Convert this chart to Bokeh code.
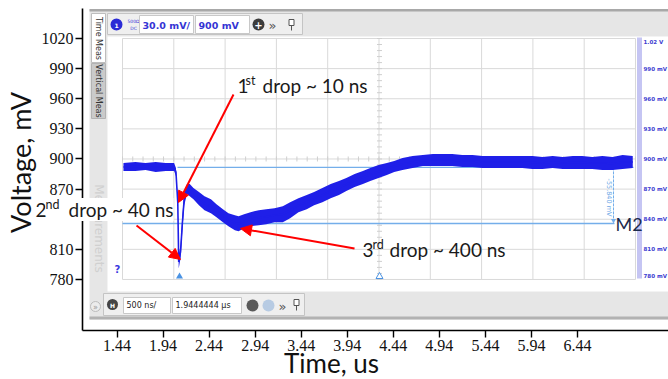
import math
from bokeh.plotting import figure
from bokeh.models import Range1d, FixedTicker, Label, Arrow, NormalHead
from bokeh.core.properties import value
from bokeh.embed import file_html
from bokeh.resources import INLINE

# ---------------- chart data ----------------
x_ticks = [1.44, 1.94, 2.44, 2.94, 3.44, 3.94, 4.44, 4.94, 5.44, 5.94, 6.44]
y_ticks = [780, 810, 840, 870, 900, 930, 960, 990, 1020]

# noisy scope trace: time (us) and upper / lower edge of the trace band (mV)
trace_t = [1.51, 1.64, 1.75, 1.86, 1.97, 2.06,
           2.08, 2.10, 2.11, 2.13, 2.15, 2.17, 2.20, 2.23, 2.27, 2.33,
           2.39, 2.46, 2.52, 2.59, 2.65, 2.72, 2.76, 2.82, 2.89, 2.98,
           3.06, 3.15, 3.24, 3.32, 3.41, 3.50, 3.58, 3.67, 3.76, 3.85,
           3.93, 4.02, 4.11, 4.19, 4.28, 4.37, 4.45, 4.54, 4.65, 4.76,
           4.87, 4.97, 5.08, 5.19, 5.30, 5.41, 5.52, 5.63, 5.73, 5.84,
           5.95, 6.06, 6.17, 6.28, 6.39, 6.49, 6.60, 6.71, 6.82, 6.93,
           7.04]
trace_hi = [896, 897, 896, 897, 896, 896,
            891, 859, 804, 814, 844, 867, 875, 875, 871, 867,
            863, 860, 855, 850, 846, 844, 843, 845, 847, 849,
            850, 851, 853, 857, 861, 864, 867, 871, 875, 878,
            881, 885, 888, 891, 894, 896, 898, 901, 903, 904,
            905, 905, 905, 904, 904, 903, 903, 903, 903, 903,
            903, 902, 903, 902, 903, 903, 902, 903, 902, 904,
            903]
trace_lo = [888, 888, 889, 887, 888, 888,
            883, 854, 791, 801, 829, 854, 865, 863, 860, 854,
            849, 846, 842, 837, 833, 829, 828, 831, 833, 834,
            835, 837, 837, 841, 847, 850, 854, 857, 861, 864,
            868, 872, 875, 878, 881, 884, 887, 889, 891, 893,
            893, 893, 893, 892, 892, 891, 891, 891, 891, 891,
            890, 890, 891, 890, 890, 890, 890, 889, 889, 890,
            891]

# scope's own vertical scale
scope_levels = [1020, 990, 960, 930, 900, 870, 840, 810, 780]
scope_labels = ["1.02 V", "990 mV", "960 mV", "930 mV", "900 mV",
                "870 mV", "840 mV", "810 mV", "780 mV"]
cursor_levels = [891.6, 835.76]
cursor_text = "-55.840 mV"

# annotations: number, superscript, rest; arrow tail and tip (us, mV)
note_num = ["1", "2", "3"]
note_sup = ["st", "nd", "rd"]
note_rest = ["drop ~ 10 ns", "drop ~ 40 ns", "drop ~ 400 ns"]
arrow_tail_t = [2.705, 1.652, 4.019]
arrow_tail_v = [964.2, 833.7, 810.8]
arrow_tip_t = [2.108, 2.129, 2.781]
arrow_tip_v = [856.7, 799.9, 830.8]


# ---------------- layout helpers (page pixel -> data) ----------------
def X(px):
    return 1.44 + (px - 116.5) / 92.1


def Y(py):
    return 1020 - (py - 38) / 1.004


W, H = 668, 379
p = figure(width=W, height=H,
           x_range=Range1d(X(0), X(W)), y_range=Range1d(Y(H), Y(0)),
           output_backend="svg", toolbar_location=None,
           min_border_left=0, min_border_right=0,
           min_border_top=0, min_border_bottom=0)
p.outline_line_color = None
p.grid.visible = False
p.background_fill_color = "white"
p.border_fill_color = "white"

for ax in (p.xaxis, p.yaxis):
    ax.axis_line_width = 1.6
    ax.axis_line_color = "black"
    ax.major_tick_line_width = 1.4
    ax.major_tick_line_color = "black"
    ax.major_tick_out = 7
    ax.major_tick_in = 0
    ax.minor_tick_out = 0
    ax.minor_tick_in = 0
    ax.major_label_text_font = "Liberation Serif"
    ax.major_label_text_font_size = "16px"
    ax.major_label_text_color = "#111111"
    ax.major_label_standoff = 2
p.xaxis.ticker = FixedTicker(ticks=x_ticks)
p.xaxis.major_label_overrides = {t: f"{t:.2f}" for t in x_ticks}
p.xaxis.fixed_location = Y(330)
p.xaxis.bounds = (X(82), X(668))
p.yaxis.ticker = FixedTicker(ticks=y_ticks)
p.yaxis.major_label_overrides = {840: ""}
p.yaxis.fixed_location = X(82)
p.yaxis.bounds = (Y(330), Y(8))


def quad(l, r, t, b, fill, line=None, lw=1.0):
    p.quad(left=[X(l)], right=[X(r)], top=[Y(t)], bottom=[Y(b)],
           fill_color=fill, line_color=line, line_width=lw)


def txt(px, py, s, size, color="#222222", font="DejaVu Sans", style="normal",
        angle=0.0, align="left", baseline="middle"):
    p.text(x=[X(px)], y=[Y(py)], text=[s], text_font=value(font),
           text_font_size=f"{size}px", text_color=color,
           text_font_style=style, angle=angle, text_align=align,
           text_baseline=baseline)


def dot(px, py, size, fill, line=None, marker="circle"):
    p.scatter(x=[X(px)], y=[Y(py)], size=size, marker=marker,
              fill_color=fill, line_color=line)


# ---------------- oscilloscope screenshot frame ----------------
quad(89, 668, 9, 319, "#e6e6e6")
quad(89, 668, 8.5, 11, "#a8a8a8")
quad(107, 668, 36, 291, "white")
quad(89, 668, 316, 319, "#b2b2b2")

# left tabs
quad(91, 105, 13, 62, "white", "#bdbdbd")
quad(91, 105, 63, 118, "#cacaca", "#b3b3b3")
txt(98, 38, "Time Meas", 8, "#333333", angle=-math.pi / 2, align="center")
txt(98, 90.5, "Vertical Meas", 8, "#333333", angle=-math.pi / 2, align="center")
txt(98, 228, "Measurements", 12, "#d0d0d0", angle=-math.pi / 2, align="center")

# top toolbar
quad(107, 302, 13, 34, "#efefef", "#c4c4c4")
dot(116, 24, 12, "#2b2bd6")
txt(116, 24.5, "1", 6, "white", style="bold", align="center")
txt(133, 20.5, "500Ω", 4.5, "#3a3ad8", align="center")
txt(133, 27.5, "DC", 4.5, "#3a3ad8", align="center")
quad(139, 193, 15, 33, "white", "#c8c8c8")
txt(142, 24.5, "30.0 mV/", 9.5, "#3434d4", style="bold")
quad(195, 249, 15, 33, "white", "#c8c8c8")
txt(198, 24.5, "900 mV", 9.5, "#3434d4", style="bold")
dot(258, 24, 12, "#3c3c3c")
txt(258, 24.5, "+", 10, "white", style="bold", align="center")
txt(272, 24.5, "»", 13, "#555555", align="center")
quad(288.5, 293.5, 19, 25, "white", "#555555")
p.segment(x0=[X(291)], y0=[Y(25)], x1=[X(291)], y1=[Y(30)], line_color="#555555")

# bottom toolbar
quad(103, 304, 293, 315, "#efefef", "#c4c4c4")
dot(95, 306, 10, "#ececec", "#bcbcbc")
txt(95, 306.5, "»", 8, "#999999", align="center")
dot(112, 304, 11, "#444444")
txt(112, 304.5, "H", 6, "white", style="bold", align="center")
quad(123, 170, 297, 313, "white", "#c8c8c8")
txt(126, 305, "500 ns/", 8, "#222222")
quad(172, 241, 297, 313, "white", "#c8c8c8")
txt(175, 305, "1.9444444 µs", 8, "#222222")
dot(252, 305, 12, "#5a5a5a")
dot(268, 305, 12, "#b7cbe3")
txt(282, 305.5, "»", 13, "#555555", align="center")
quad(293.5, 298.5, 299, 305, "white", "#555555")
p.segment(x0=[X(296)], y0=[Y(305)], x1=[X(296)], y1=[Y(310)], line_color="#555555")

# scope graticule
gx = [122 + k * 51.3 for k in range(11)]
p.segment(x0=[X(v) for v in gx], y0=[scope_levels[-1]] * len(gx),
          x1=[X(v) for v in gx], y1=[scope_levels[0]] * len(gx),
          line_color="#d9d9d9", line_width=1)
p.segment(x0=[X(122)] * len(scope_levels), y0=scope_levels,
          x1=[X(635)] * len(scope_levels), y1=scope_levels,
          line_color="#d9d9d9", line_width=1)
ty = [scope_levels[-1] + j * 6 for j in range(41)]
p.segment(x0=[X(376.5)] * len(ty), y0=ty, x1=[X(381.5)] * len(ty), y1=ty,
          line_color="#cfcfcf", line_width=1)
tx = [122 + j * 10.26 for j in range(51)]
p.segment(x0=[X(v) for v in tx], y0=[902.5] * len(tx),
          x1=[X(v) for v in tx], y1=[897.5] * len(tx),
          line_color="#cfcfcf", line_width=1)

# scope right scale
quad(636.5, 641.5, 37, 278, "#c5c5f3")
for lv, lab in zip(scope_levels, scope_labels):
    bl = "top" if lv == max(scope_levels) else ("bottom" if lv == min(scope_levels) else "middle")
    p.text(x=[X(643)], y=[lv], text=[lab], text_font=value("DejaVu Sans"),
           text_font_size="5.5px", text_color="#3b3bd0", text_font_style="bold",
           text_align="left", text_baseline=bl)

# cursors
p.segment(x0=[X(177)], y0=[cursor_levels[0]], x1=[X(633)], y1=[cursor_levels[0]],
          line_color="#74aeea", line_width=1.3)
p.segment(x0=[X(122)], y0=[cursor_levels[1]], x1=[X(614)], y1=[cursor_levels[1]],
          line_color="#74aeea", line_width=1.3)
p.segment(x0=[X(613)], y0=[cursor_levels[0]], x1=[X(613)], y1=[cursor_levels[1]],
          line_color="#74aeea", line_width=1, line_dash="3 1")
dot(613, 220, 5, "#74aeea", marker="inverted_triangle")
txt(608, 197, cursor_text, 6.5, "#6aa6e6", angle=-math.pi / 2, align="center")
dot(179, 276, 7, "#4b93e3", marker="triangle")
dot(379, 276, 7, "white", "#4b93e3", marker="triangle")
txt(117, 269, "?", 10, "#3a3ae0", style="bold", align="center")

# waveform
trace_mid = [(a + b) / 2 for a, b in zip(trace_hi, trace_lo)]
p.varea(x=trace_t, y1=trace_lo, y2=trace_hi, fill_color="#1f1fe8")
p.line(x=trace_t, y=trace_mid, line_color="#1f1fe8", line_width=1.6)

txt(615, 223, "M2", 18, "#1c2b4d", font="Lato")

# ---------------- annotations (anchors are text centres) ----------------
NOTE_FONT = "Lato"
num_px = [(237, 85), (35, 209), (362, 249)]
sup_px = [(245, 79.5), (45, 203.5), (372, 243.5)]
rest_px = [(262, 85), (68, 209), (389, 249)]
for i in range(3):
    bg = "white" if i == 1 else None
    for (px, py), s, size in ((num_px[i], note_num[i], 19),
                              (sup_px[i], note_sup[i], 12.5),
                              (rest_px[i], note_rest[i], 19)):
        p.add_layout(Label(x=X(px), y=Y(py), text=s, text_font=NOTE_FONT,
                           text_font_size=f"{size}px", text_color="#1a1a1a",
                           text_align="left", text_baseline="middle",
                           background_fill_color=bg))
    p.add_layout(Arrow(end=NormalHead(size=11, fill_color="#ff0000",
                                      line_color="#ff0000", line_width=1),
                       x_start=arrow_tail_t[i], y_start=arrow_tail_v[i],
                       x_end=arrow_tip_t[i], y_end=arrow_tip_v[i],
                       line_color="#ff0000", line_width=2))

# axis titles
p.add_layout(Label(x=X(331), y=Y(362), text="Time, us", text_font="Lato",
                   text_font_size="26px", text_color="#111111",
                   text_align="center", text_baseline="middle"))
p.add_layout(Label(x=X(19.5), y=Y(162), text="Voltage, mV", text_font="Lato",
                   text_font_size="27px", text_color="#111111", angle=math.pi / 2,
                   text_align="center", text_baseline="middle"))

open("out.html", "w").write(file_html(p, INLINE))
